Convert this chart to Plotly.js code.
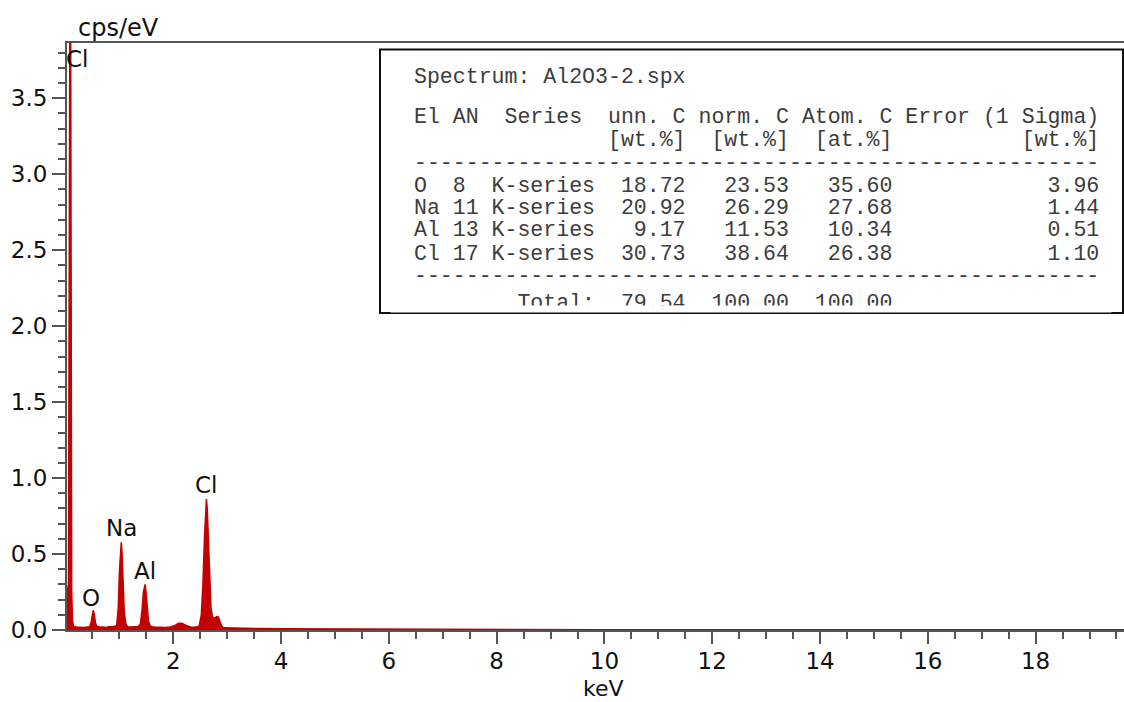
<!DOCTYPE html>
<html>
<head>
<meta charset="utf-8">
<script src="https://cdn.plot.ly/plotly-3.0.1.min.js"></script>
<style>html,body{margin:0;padding:0;background:#fff;}#chart{width:1124px;height:702px;}</style>
</head>
<body>
<div id="chart"></div>
<script>
// ---- data ----
const energyKeV = [0.028,0.04,0.055,0.065,0.075,0.085,0.095,0.105,0.115,0.13,0.15,0.2,0.25,0.3,0.35,0.4,0.45,0.475,0.495,0.515,0.535,0.555,0.58,0.61,0.65,0.7,0.75,0.8,0.85,0.9,0.95,0.98,1.00,1.02,1.035,1.05,1.07,1.09,1.12,1.15,1.2,1.25,1.3,1.35,1.39,1.42,1.445,1.465,1.478,1.495,1.515,1.54,1.57,1.60,1.65,1.75,1.85,1.95,2.03,2.10,2.16,2.24,2.32,2.40,2.48,2.52,2.55,2.58,2.60,2.615,2.63,2.65,2.67,2.70,2.73,2.77,2.81,2.84,2.87,2.91,2.95,3.1,3.3,3.6,4.0,4.5,5.0,5.5,6.0,6.5,7.0,7.5,8.0,9.0,10.0,12.0,14.0,16.0,18.0,19.7];
const cpsPerEv = [0.26,0.27,0.30,1.8,4.3,4.6,4.2,1.6,0.25,0.06,0.025,0.02,0.018,0.02,0.017,0.02,0.022,0.05,0.11,0.13,0.10,0.05,0.024,0.02,0.018,0.02,0.017,0.022,0.02,0.023,0.03,0.15,0.38,0.53,0.577,0.50,0.30,0.12,0.04,0.022,0.02,0.022,0.019,0.023,0.04,0.13,0.25,0.295,0.30,0.25,0.15,0.06,0.028,0.022,0.02,0.018,0.017,0.02,0.03,0.045,0.044,0.03,0.02,0.018,0.025,0.10,0.30,0.62,0.82,0.862,0.80,0.58,0.32,0.14,0.085,0.078,0.088,0.085,0.05,0.02,0.014,0.012,0.011,0.01,0.009,0.008,0.007,0.006,0.005,0.004,0.004,0.003,0.002,0.002,0.001,0.001,0.001,0.001,0.001,0.001];

// peak labels: element, energy (keV), label height (cps/eV)
const peakNames = ["Cl","O","Na","Al","Cl"];
const peakEnergy = [0.205,0.48,1.03,1.47,2.61];
const peakLabelY = [3.76,0.21,0.672,0.388,0.954];

// quantification table
const tableTitle = "Spectrum: Al2O3-2.spx";
const tableHeader1 = "El AN  Series  unn. C norm. C Atom. C Error (1 Sigma)";
const tableHeader2 = "               [wt.%]  [wt.%]  [at.%]          [wt.%]";
const tableRows = [
  "O  8  K-series  18.72   23.53   35.60            3.96",
  "Na 11 K-series  20.92   26.29   27.68            1.44",
  "Al 13 K-series   9.17   11.53   10.34            0.51",
  "Cl 17 K-series  30.73   38.64   26.38            1.10"
];
const tableRule = "-----------------------------------------------------";
const tableTotal = "        Total:  79.54  100.00  100.00";

const xTitle = "keV";
const yTitle = "cps/eV";

// ---- layout helpers (pixel -> paper) ----
const L = 67, R = 1124, T = 43, B = 630;
const px = x => (x - L) / (R - L);
const py = y => (B - y) / (B - T);
const nb = s => s.replace(/ /g, "\u00A0");

const red = "#c40000";
const axisCol = "#555";
const sans = "DejaVu Sans, Verdana, sans-serif";
const mono = "Liberation Mono, Courier New, monospace";

const trace = {
  x: energyKeV, y: cpsPerEv, type: "scatter", mode: "lines",
  line: {color: red, width: 1.5}, fill: "tozeroy", fillcolor: red,
  hoverinfo: "skip"
};

const annotations = [];
peakNames.forEach((n, i) => annotations.push({
  x: peakEnergy[i], y: peakLabelY[i], xref: "x", yref: "y", text: n, showarrow: false,
  font: {family: sans, size: 23, color: "#111"}, xanchor: "center", yanchor: "middle"
}));

annotations.push({x: px(76), y: py(28), xref: "paper", yref: "paper", text: yTitle, showarrow: false,
  xanchor: "left", yanchor: "middle", font: {family: sans, size: 24, color: "#111"}});
annotations.push({x: px(603), y: py(702), xref: "paper", yref: "paper", text: xTitle, showarrow: false,
  borderpad: 0, xanchor: "center", yanchor: "bottom", font: {family: sans, size: 22, color: "#111"}});

const tLines = [tableTitle, tableHeader1, tableHeader2, tableRule].concat(tableRows).concat([tableRule, tableTotal]);
const tY = [76, 116, 139, 162, 184.5, 207, 229.5, 252.5, 275, 302];
tLines.forEach((s, i) => annotations.push({
  x: px(412), y: py(tY[i] + 1), xref: "paper", yref: "paper", text: nb(s), showarrow: false,
  xanchor: "left", yanchor: "middle", font: {family: mono, size: 21.55, color: "#3c3c3c"}
}));
// clip of the last table line by the box edge
annotations.push({x: px(751), y: py(309), xref: "paper", yref: "paper", text: " ", showarrow: false,
  width: 720, height: 6, bgcolor: "#fff", borderpad: 0, xanchor: "center", yanchor: "middle"});

const layout = {
  width: 1124, height: 702,
  margin: {l: L, r: 1124 - R, t: T, b: 702 - B, pad: 0},
  paper_bgcolor: "#fff", plot_bgcolor: "#fff",
  showlegend: false,
  xaxis: {
    range: [0.028, 19.64], tick0: 0, dtick: 2, ticks: "outside", ticklen: 12, tickwidth: 2, tickcolor: axisCol,
    showline: true, linecolor: axisCol, linewidth: 2, mirror: true, showgrid: false, zeroline: false,
    ticklabelstandoff: -3,
    tickfont: {family: sans, size: 23, color: "#111"},
    minor: {tick0: 0, dtick: 0.5, ticks: "outside", ticklen: 7, tickwidth: 2, tickcolor: axisCol, showgrid: false},
    fixedrange: true
  },
  yaxis: {
    range: [0, 3.864], tick0: 0, dtick: 0.5, tickformat: ".1f", ticks: "outside", ticklen: 13, tickwidth: 2, tickcolor: axisCol,
    showline: true, linecolor: axisCol, linewidth: 2, showgrid: false, zeroline: false,
    tickfont: {family: sans, size: 23, color: "#111"},
    minor: {tick0: 0, dtick: 0.1, ticks: "outside", ticklen: 7, tickwidth: 2, tickcolor: axisCol, showgrid: false},
    fixedrange: true
  },
  shapes: [{
    type: "rect", xref: "paper", yref: "paper", x0: px(380), x1: px(1123), y0: py(313), y1: py(49.5),
    line: {color: "#111", width: 2}, fillcolor: "#fff", layer: "above"
  }],
  annotations: annotations
};

Plotly.newPlot("chart", [trace], layout, {displayModeBar: false, staticPlot: true});
</script>
</body>
</html>
